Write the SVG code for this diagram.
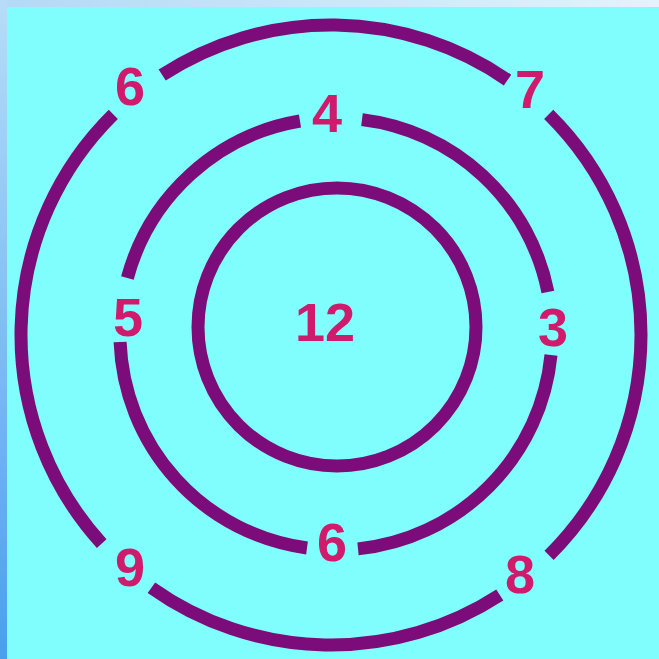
<svg xmlns="http://www.w3.org/2000/svg" width="659" height="659" viewBox="0 0 659 659">
  <defs>
    <linearGradient id="leftEdge" x1="0" y1="0" x2="0" y2="1">
      <stop offset="0" stop-color="#b8dcf8"/>
      <stop offset="1" stop-color="#4a9ef0"/>
    </linearGradient>
    <linearGradient id="topEdge" x1="0" y1="0" x2="1" y2="0">
      <stop offset="0" stop-color="#b4d8f6"/>
      <stop offset="1" stop-color="#e4f2fc"/>
    </linearGradient>
  </defs>
  <style>
    .ring { fill: none; stroke: #7c0c7a; stroke-width: 13; stroke-linecap: butt; }
    .lbl { font-family: "Liberation Sans", Arial, sans-serif; font-weight: bold; font-size: 54px; fill: #d01a6c; text-anchor: middle; }
  </style>
  <rect x="0" y="0" width="659" height="659" fill="#80fefe"/>
  <rect x="0" y="0" width="659" height="7" fill="url(#topEdge)"/>
  <rect x="0" y="0" width="7" height="659" fill="url(#leftEdge)"/>

  <g id="connectors">
    <g id="outer-ring">
      <path class="ring" d="M162.2,75 A310,310 0 0 1 507.5,80.1"/>
      <path class="ring" d="M548.7,114.3 A310,310 0 0 1 549.1,555.3"/>
      <path class="ring" d="M499.8,595 A310,310 0 0 1 151.4,587.7"/>
      <path class="ring" d="M101.7,543.6 A310,310 0 0 1 113.3,114.3"/>
    </g>
    <g id="middle-ring">
      <path class="ring" d="M362,119.6 A216,216 0 0 1 547.9,292"/>
      <path class="ring" d="M551,355 A216,216 0 0 1 358,548.9"/>
      <path class="ring" d="M307,548 A216,216 0 0 1 120.1,342"/>
      <path class="ring" d="M127.4,278 A216,216 0 0 1 300,121"/>
    </g>
    <g id="inner-ring">
      <circle class="ring" cx="337" cy="327" r="139"/>
    </g>
  </g>

  <g id="n-center"><text class="lbl" x="325" y="341">12</text></g>
  <g id="n-top"><text class="lbl" x="327" y="132">4</text></g>
  <g id="n-left"><text class="lbl" x="128" y="336">5</text></g>
  <g id="n-right"><text class="lbl" x="553" y="346">3</text></g>
  <g id="n-bottom"><text class="lbl" x="332" y="561">6</text></g>
  <g id="n-top-left"><text class="lbl" x="130" y="105">6</text></g>
  <g id="n-top-right"><text class="lbl" x="530" y="108">7</text></g>
  <g id="n-bottom-left"><text class="lbl" x="130" y="586">9</text></g>
  <g id="n-bottom-right"><text class="lbl" x="520" y="593">8</text></g>
</svg>
